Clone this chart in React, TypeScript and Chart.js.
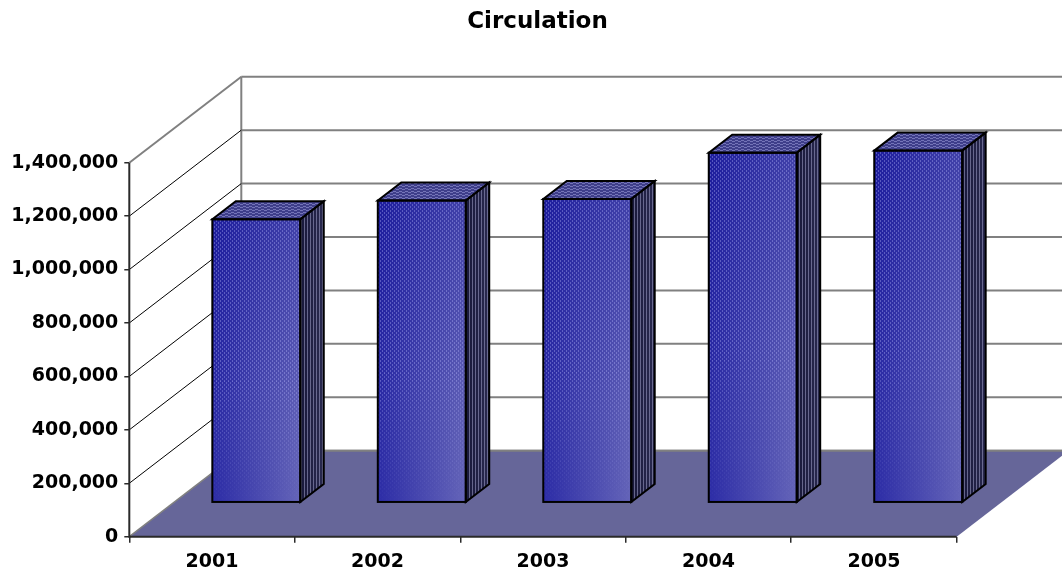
import React, { useEffect, useRef } from 'react';
import { Chart, registerables } from 'chart.js';

Chart.register(...registerables);

const chartTitle = 'Circulation';
const categories = ['2001', '2002', '2003', '2004', '2005'];
const circulation = [1061000, 1131000, 1137000, 1310000, 1318000];
const yMin = 0;
const yMax = 1400000;
const yStep = 200000;

// 3D geometry (pixels)
const DEPTH_X = 112;
const DEPTH_Y = 86;
const BAR_FRONT = 34 / 86; // fraction of floor depth where bar front sits
const BAR_DEPTH = 18 / 86; // fraction of floor depth for bar depth

const FONT = 'DejaVu Sans';

function makePattern(ctx: CanvasRenderingContext2D, w: number, h: number, pts: number[][], color: string) {
  const c = document.createElement('canvas');
  c.width = w;
  c.height = h;
  const g = c.getContext('2d')!;
  g.fillStyle = color;
  pts.forEach(([px, py]) => g.fillRect(px, py, 1, 1));
  return ctx.createPattern(c, 'repeat');
}

const threeD = {
  id: 'threeD',
  beforeDatasetsDraw(chart: any) {
    const { ctx, chartArea: a, scales } = chart;
    const y = scales.y;
    const L = a.left;
    const R = a.right;
    const B = a.bottom;
    ctx.save();
    const line = (x1: number, y1: number, x2: number, y2: number, color: string, w: number) => {
      ctx.beginPath();
      ctx.moveTo(x1, y1);
      ctx.lineTo(x2, y2);
      ctx.strokeStyle = color;
      ctx.lineWidth = w;
      ctx.stroke();
    };
    const top = y.getPixelForValue(yMax);
    y.ticks.forEach((t: any) => {
      const py = y.getPixelForValue(t.value);
      line(L + DEPTH_X, py - DEPTH_Y, R + DEPTH_X, py - DEPTH_Y, '#808080', 2);
    });
    line(L + DEPTH_X, top - DEPTH_Y, L + DEPTH_X, B - DEPTH_Y, '#808080', 2);
    y.ticks.forEach((t: any) => {
      const py = y.getPixelForValue(t.value);
      if (t.value === yMax) line(L, py, L + DEPTH_X, py - DEPTH_Y, '#808080', 2);
      else if (t.value !== 0) line(L, py, L + DEPTH_X, py - DEPTH_Y, '#000000', 1);
    });
    ctx.beginPath();
    ctx.moveTo(L, B);
    ctx.lineTo(R, B);
    ctx.lineTo(R + DEPTH_X, B - DEPTH_Y);
    ctx.lineTo(L + DEPTH_X, B - DEPTH_Y);
    ctx.closePath();
    ctx.fillStyle = '#666699';
    ctx.fill();
    line(L, B, L + DEPTH_X, B - DEPTH_Y, '#808080', 1.5);
    line(L + DEPTH_X, B - DEPTH_Y, R + DEPTH_X, B - DEPTH_Y, '#808080', 2);
    line(L, B, R, B, '#2a2a2a', 2);
    line(L, top, L, B + 1, '#2a2a2a', 2);
    ctx.restore();
  },
  afterDatasetsDraw(chart: any) {
    const { ctx } = chart;
    const meta = chart.getDatasetMeta(0);
    const frontPat = makePattern(ctx, 4, 4, [[0, 0], [0, 1], [2, 2], [2, 3]], 'rgba(190,190,255,0.35)');
    const sidePat = makePattern(ctx, 3, 1, [[1, 0]], 'rgba(150,150,190,0.6)');
    const topPat = makePattern(ctx, 6, 3, [[0, 0], [1, 0], [2, 0], [3, 2], [4, 2], [5, 2]], 'rgba(170,170,230,0.5)');
    const ox = DEPTH_X * BAR_FRONT;
    const oy = -DEPTH_Y * BAR_FRONT;
    const dx = DEPTH_X * BAR_DEPTH;
    const dy = -DEPTH_Y * BAR_DEPTH;
    ctx.save();
    meta.data.forEach((el: any) => {
      const p = el.getProps(['x', 'y', 'base', 'width'], true);
      const left = p.x - p.width / 2 + ox;
      const right = p.x + p.width / 2 + ox;
      const top = p.y + oy;
      const bottom = p.base + oy;
      const h = bottom - top;
      const side = () => {
        ctx.beginPath();
        ctx.moveTo(right, top);
        ctx.lineTo(right + dx, top + dy);
        ctx.lineTo(right + dx, bottom + dy);
        ctx.lineTo(right, bottom);
        ctx.closePath();
      };
      side();
      const sg = ctx.createLinearGradient(right, 0, right + dx, 0);
      sg.addColorStop(0, '#18183a');
      sg.addColorStop(1, '#2a2a50');
      ctx.fillStyle = sg;
      ctx.fill();
      ctx.fillStyle = sidePat;
      ctx.fill();
      const topFace = () => {
        ctx.beginPath();
        ctx.moveTo(left, top);
        ctx.lineTo(left + dx, top + dy);
        ctx.lineTo(right + dx, top + dy);
        ctx.lineTo(right, top);
        ctx.closePath();
      };
      topFace();
      ctx.fillStyle = '#3e3e8a';
      ctx.fill();
      ctx.fillStyle = topPat;
      ctx.fill();
      const fg = ctx.createLinearGradient(left, 0, right, 0);
      fg.addColorStop(0, '#2c2ca6');
      fg.addColorStop(1, '#6464b8');
      ctx.fillStyle = fg;
      ctx.fillRect(left, top, right - left, h);
      const vg = ctx.createLinearGradient(0, top, 0, bottom);
      vg.addColorStop(0, 'rgba(0,0,140,0.35)');
      vg.addColorStop(0.6, 'rgba(0,0,140,0.08)');
      vg.addColorStop(1, 'rgba(60,60,140,0.0)');
      ctx.fillStyle = vg;
      ctx.fillRect(left, top, right - left, h);
      // texture fading out toward the bottom
      ctx.fillStyle = frontPat;
      const bands = 20;
      const fadeStart = 0.55;
      ctx.fillRect(left, top, right - left, h * fadeStart);
      for (let i = 0; i < bands; i++) {
        const y0 = top + h * (fadeStart + ((1 - fadeStart) * i) / bands);
        ctx.globalAlpha = 1 - (i + 1) / (bands + 1);
        ctx.fillRect(left, y0, right - left, (h * (1 - fadeStart)) / bands + 0.5);
      }
      ctx.globalAlpha = 1;
      ctx.strokeStyle = '#000000';
      ctx.lineWidth = 2;
      ctx.lineJoin = 'miter';
      ctx.strokeRect(left, top, right - left, h);
      side();
      ctx.stroke();
      topFace();
      ctx.stroke();
    });
    ctx.restore();
  },
  afterDraw(chart: any) {
    const { ctx } = chart;
    ctx.save();
    ctx.font = `bold 23px "${FONT}"`;
    ctx.fillStyle = '#000000';
    ctx.textAlign = 'center';
    ctx.textBaseline = 'middle';
    ctx.fillText(chartTitle, 537.5, 22);
    ctx.restore();
  },
};

export default function App() {
  const ref = useRef<HTMLCanvasElement | null>(null);
  useEffect(() => {
    if (!ref.current) return;
    const chart = new Chart(ref.current, {
      type: 'bar',
      data: {
        labels: categories,
        datasets: [
          {
            label: chartTitle,
            data: circulation,
            backgroundColor: 'rgba(0,0,0,0)',
            borderWidth: 0,
            categoryPercentage: 1,
            barPercentage: 88 / 165.5,
          },
        ],
      },
      options: {
        responsive: false,
        animation: false,
        devicePixelRatio: 1,
        events: [],
        layout: { padding: { left: 0, right: 105.3, top: 162.7, bottom: 0 } },
        plugins: {
          legend: { display: false },
          title: { display: false },
          tooltip: { enabled: false },
        },
        scales: {
          x: {
            afterFit: (s: any) => {
              s.height = 37.3;
            },
            grid: {
              offset: true,
              drawOnChartArea: false,
              drawTicks: true,
              tickLength: 6,
              color: '#2a2a2a',
              lineWidth: 1.5,
            },
            border: { display: false },
            ticks: {
              color: '#000000',
              padding: 8,
              font: { family: FONT, size: 19, weight: 'bold' },
              maxRotation: 0,
            },
          },
          y: {
            min: yMin,
            max: yMax,
            afterFit: (s: any) => {
              s.width = 129.3;
            },
            grid: {
              drawOnChartArea: false,
              drawTicks: true,
              tickLength: 5,
              color: '#2a2a2a',
              lineWidth: 1.5,
            },
            border: { display: false },
            ticks: {
              stepSize: yStep,
              color: '#000000',
              padding: 6,
              font: { family: FONT, size: 19, weight: 'bold' },
              callback: (v: any) => Number(v).toLocaleString('en-US'),
            },
          },
        },
      },
      plugins: [threeD],
    });
    return () => chart.destroy();
  }, []);
  return (
    <div style={{ position: 'absolute', left: 0, top: 0, width: 1062, height: 574 }}>
      <canvas ref={ref} width={1062} height={574} style={{ display: 'block' }} />
    </div>
  );
}
